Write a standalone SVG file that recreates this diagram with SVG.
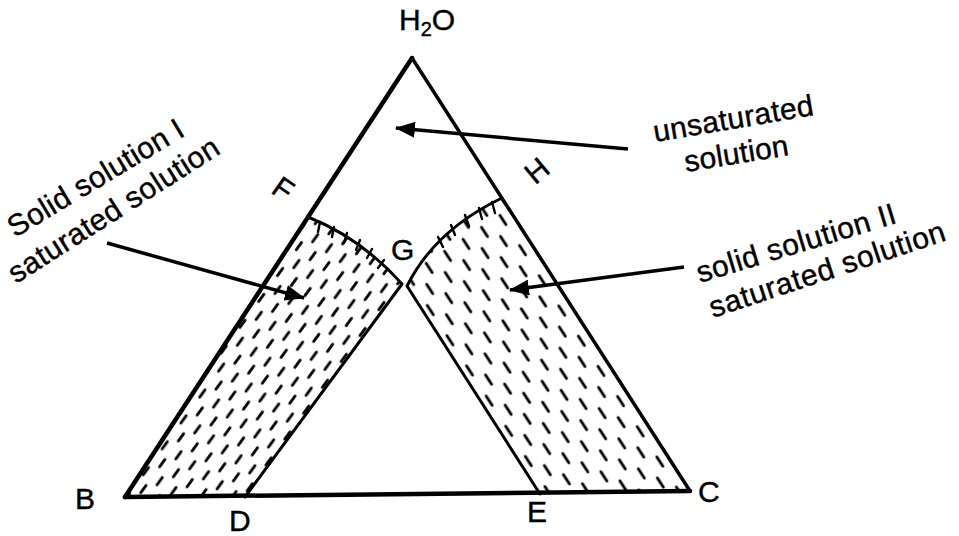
<svg xmlns="http://www.w3.org/2000/svg" width="959" height="536" viewBox="0 0 959 536">
<style>
.t{font-family:"Liberation Sans",Arial,sans-serif;font-size:30px;fill:#000;stroke:#000;stroke-width:0.4}
.edge{stroke:#000;fill:none;stroke-linecap:round;stroke-linejoin:round}
.dash{stroke:#000;stroke-width:2.8;stroke-linecap:round}
.tick{stroke:#000;stroke-width:2.4;stroke-linecap:round}
</style>
<defs>
<pattern id="pL" patternUnits="userSpaceOnUse" width="17" height="32" patternTransform="rotate(36)">
<line class="dash" x1="4" y1="3" x2="4" y2="12"/>
<line class="dash" x1="12.5" y1="19" x2="12.5" y2="28"/>
</pattern>
<pattern id="pR" patternUnits="userSpaceOnUse" width="22" height="36" patternTransform="rotate(-33)">
<line class="dash" x1="5" y1="3" x2="5" y2="14"/>
<line class="dash" x1="16" y1="21" x2="16" y2="32"/>
</pattern>
<marker id="ah" markerUnits="userSpaceOnUse" markerWidth="22" markerHeight="16" refX="19" refY="8" orient="auto">
<path d="M0,0 L20,8 L0,16 Z" fill="#000"/>
</marker>
</defs>

<g id="region-left">
<path d="M308,217 Q361,238 402,284 L245,497 L125,497 Z" fill="url(#pL)" stroke="none"/>
<path class="edge" stroke-width="3" d="M308,217 Q361,238 402,284 L245,497"/>
<g>
<line class="tick" x1="320" y1="222" x2="318" y2="232"/>
<line class="tick" x1="334" y1="227" x2="332" y2="237"/>
<line class="tick" x1="347" y1="233" x2="344" y2="243"/>
<line class="tick" x1="360" y1="240" x2="356" y2="250"/>
<line class="tick" x1="372" y1="249" x2="367" y2="258"/>
<line class="tick" x1="384" y1="260" x2="378" y2="268"/>
</g>
</g>

<g id="region-right">
<path d="M502,198 L690,491 L540,494 L407,286 Q435,230 502,198 Z" fill="url(#pR)" stroke="none"/>
<path class="edge" stroke-width="3" d="M540,494 L407,286 Q435,230 502,198"/>
<g>
<line class="tick" x1="492" y1="202" x2="495" y2="213"/>
<line class="tick" x1="479" y1="208" x2="482" y2="219"/>
<line class="tick" x1="465" y1="215" x2="469" y2="226"/>
<line class="tick" x1="451" y1="225" x2="455" y2="235"/>
<line class="tick" x1="438" y1="237" x2="443" y2="247"/>
</g>
</g>

<g id="triangle">
<path class="edge" stroke-width="4.5" d="M412,58 L125,497"/>
<path class="edge" stroke-width="3.5" d="M412,58 L690,491"/>
<path class="edge" stroke-width="4.5" d="M125,497 L690,491"/>
</g>

<g id="connectors">
<line x1="628" y1="149" x2="396" y2="128" stroke="#000" stroke-width="3.5" marker-end="url(#ah)"/>
<line x1="107" y1="243" x2="304" y2="298" stroke="#000" stroke-width="3.5" marker-end="url(#ah)"/>
<line x1="684" y1="267" x2="510" y2="290" stroke="#000" stroke-width="3.5" marker-end="url(#ah)"/>
</g>

<g id="labels">
<text class="t" x="399" y="30">H<tspan font-size="20" dy="6">2</tspan><tspan dy="-6">O</tspan></text>
<text class="t" x="75" y="509">B</text>
<text class="t" x="229" y="531">D</text>
<text class="t" x="527" y="522">E</text>
<text class="t" x="698" y="502">C</text>
<text class="t" x="391" y="260">G</text>
<text class="t" text-anchor="middle" transform="translate(283,189) rotate(35)" y="10">F</text>
<text class="t" text-anchor="middle" transform="translate(537,171) rotate(-40)" y="10">H</text>
</g>

<g id="note-unsaturated">
<text class="t" transform="translate(655,142) rotate(-9.6)" textLength="162" lengthAdjust="spacing">unsaturated</text>
<text class="t" transform="translate(686,172) rotate(-9.3)" textLength="105" lengthAdjust="spacing">solution</text>
</g>
<g id="note-solid-I">
<text class="t" transform="translate(15,238) rotate(-31)" textLength="200" lengthAdjust="spacing">Solid solution I</text>
<text class="t" transform="translate(16,284) rotate(-32.5)" textLength="244" lengthAdjust="spacing">saturated solution</text>
</g>
<g id="note-solid-II">
<text class="t" transform="translate(700,283) rotate(-17)" textLength="207" lengthAdjust="spacing">solid solution II</text>
<text class="t" transform="translate(713,318) rotate(-18.4)" textLength="247" lengthAdjust="spacing">saturated solution</text>
</g>
</svg>
